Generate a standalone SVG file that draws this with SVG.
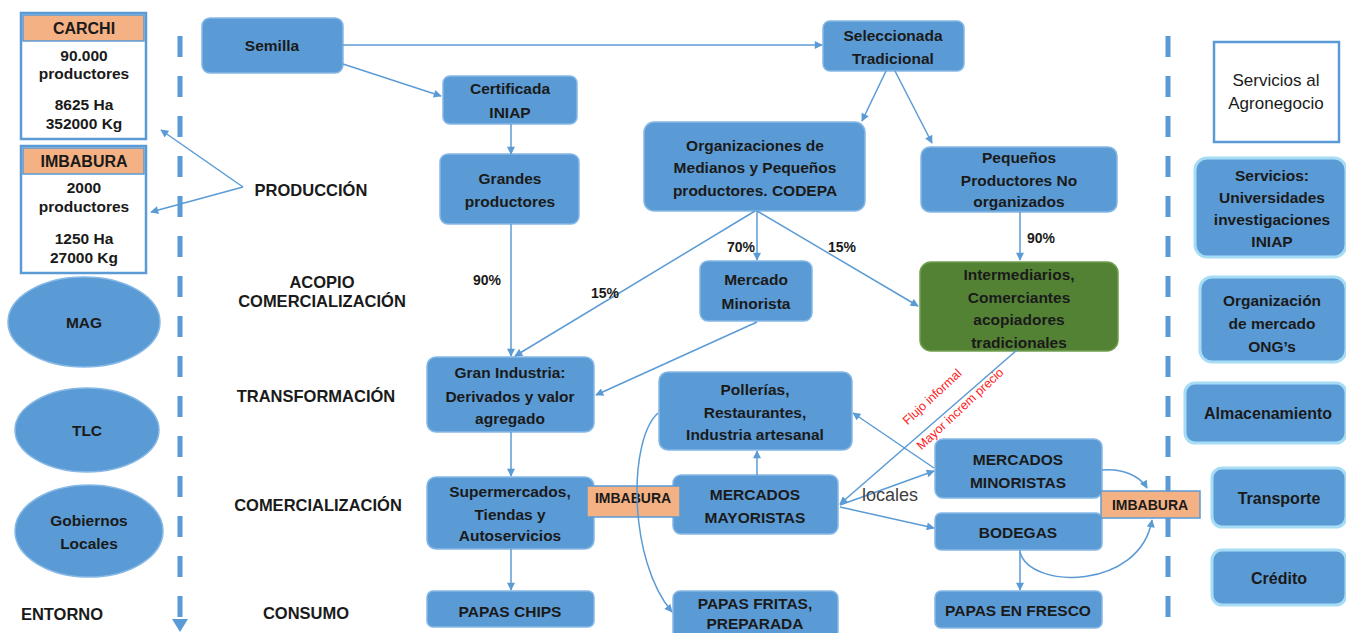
<svg xmlns="http://www.w3.org/2000/svg" width="1346" height="633" viewBox="0 0 1346 633">
<defs>
<style>
.n{fill:#5b9bd5;stroke:#86b8e6;stroke-width:1.5}
.g{fill:#548235;stroke:#6f9e50;stroke-width:1.5}
.s{fill:#5b9bd5;stroke:#a6ddf5;stroke-width:3}
.o{fill:#f4b183;stroke:#5b9bd5;stroke-width:1.5}
.w{fill:#ffffff;stroke:#5b9bd5;stroke-width:2.5}
.t{font-family:"Liberation Sans",Arial,sans-serif;font-weight:bold;font-size:15.5px;fill:#1a1a1a;text-anchor:middle}
.l{font-family:"Liberation Sans",Arial,sans-serif;font-weight:bold;font-size:16.5px;fill:#1a1a1a;text-anchor:middle}
.p{font-family:"Liberation Sans",Arial,sans-serif;font-weight:bold;font-size:14px;fill:#1a1a1a;text-anchor:middle}
.r{font-family:"Liberation Sans",Arial,sans-serif;font-size:12.5px;fill:#ff2020;text-anchor:middle}
.c{fill:none;stroke:#5b9bd5;stroke-width:1.5;marker-end:url(#ah)}
.d{fill:none;stroke:#5b9bd5;stroke-width:5;stroke-dasharray:21 19}
</style>
<marker id="ah" viewBox="0 0 10 10" refX="9" refY="5" markerWidth="9" markerHeight="8" markerUnits="userSpaceOnUse" orient="auto">
<path d="M0,0 L10,5 L0,10 z" fill="#5b9bd5"/>
</marker>
</defs>
<rect width="1346" height="633" fill="#ffffff"/>

<g id="guides">
<line class="d" x1="180" y1="36" x2="180" y2="620"/>
<path d="M172,619 L188,619 L180,632 z" fill="#5b9bd5"/>
<line class="d" x1="1168" y1="36" x2="1168" y2="620"/>
</g>

<g id="carchi">
<rect x="21" y="13" width="125" height="126" class="w"/>
<rect x="23" y="15" width="121" height="26" class="o"/>
<text class="t" x="84" y="34" style="font-size:16px">CARCHI</text>
<text class="t" x="84" y="61">90.000</text>
<text class="t" x="84" y="79">productores</text>
<text class="t" x="84" y="110">8625 Ha</text>
<text class="t" x="84" y="129">352000 Kg</text>
</g>
<g id="imbabura1">
<rect x="21" y="146" width="125" height="127" class="w"/>
<rect x="23" y="148" width="121" height="26" class="o"/>
<text class="t" x="84" y="167" style="font-size:16px">IMBABURA</text>
<text class="t" x="84" y="193">2000</text>
<text class="t" x="84" y="212">productores</text>
<text class="t" x="84" y="244">1250 Ha</text>
<text class="t" x="84" y="263">27000 Kg</text>
</g>
<g id="mag"><ellipse cx="84" cy="322" rx="76" ry="45" class="n"/><text class="t" x="84" y="328">MAG</text></g>
<g id="tlc"><ellipse cx="87" cy="430" rx="72" ry="42" class="n"/><text class="t" x="87" y="436">TLC</text></g>
<g id="gob"><ellipse cx="89" cy="531" rx="74" ry="46" class="n"/><text class="t" x="89" y="526">Gobiernos</text><text class="t" x="89" y="549">Locales</text></g>

<g id="labels">
<text class="l" x="311" y="196">PRODUCCIÓN</text>
<text class="l" x="322" y="288">ACOPIO</text>
<text class="l" x="322" y="307">COMERCIALIZACIÓN</text>
<text class="l" x="316" y="402">TRANSFORMACIÓN</text>
<text class="l" x="318" y="511">COMERCIALIZACIÓN</text>
<text class="l" x="306" y="619">CONSUMO</text>
<text class="l" x="62" y="620">ENTORNO</text>
</g>

<g id="semilla"><rect x="202" y="18" width="141" height="55" rx="8" class="n"/><text class="t" x="272" y="51">Semilla</text></g>
<g id="certificada"><rect x="443" y="76" width="134" height="48" rx="7" class="n"/><text class="t" x="510" y="94">Certificada</text><text class="t" x="510" y="118">INIAP</text></g>
<g id="grandes"><rect x="440" y="154" width="139" height="70" rx="8" class="n"/><text class="t" x="510" y="184">Grandes</text><text class="t" x="510" y="207">productores</text></g>
<g id="seleccionada"><rect x="823" y="21" width="141" height="50" rx="7" class="n"/><text class="t" x="893" y="41">Seleccionada</text><text class="t" x="893" y="64">Tradicional</text></g>
<g id="organizaciones"><rect x="644" y="122" width="221" height="89" rx="10" class="n"/><text class="t" x="755" y="151">Organizaciones de</text><text class="t" x="755" y="173">Medianos y Pequeños</text><text class="t" x="755" y="196">productores. CODEPA</text></g>
<g id="pequenos"><rect x="921" y="147" width="196" height="65" rx="9" class="n"/><text class="t" x="1019" y="163">Pequeños</text><text class="t" x="1019" y="186">Productores No</text><text class="t" x="1019" y="207">organizados</text></g>
<g id="minorista"><rect x="700" y="261" width="112" height="60" rx="8" class="n"/><text class="t" x="756" y="285">Mercado</text><text class="t" x="756" y="309">Minorista</text></g>
<g id="intermediarios"><rect x="920" y="262" width="198" height="89" rx="11" class="g"/><text class="t" x="1019" y="280">Intermediarios,</text><text class="t" x="1019" y="303">Comerciantes</text><text class="t" x="1019" y="325">acopiadores</text><text class="t" x="1019" y="348">tradicionales</text></g>
<g id="granindustria"><rect x="427" y="357" width="167" height="75" rx="9" class="n"/><text class="t" x="510" y="378">Gran Industria:</text><text class="t" x="510" y="402">Derivados y valor</text><text class="t" x="510" y="424">agregado</text></g>
<g id="pollerias"><rect x="659" y="372" width="193" height="78" rx="9" class="n"/><text class="t" x="755" y="395">Pollerías,</text><text class="t" x="755" y="418">Restaurantes,</text><text class="t" x="755" y="440">Industria artesanal</text></g>
<g id="supermercados"><rect x="427" y="477" width="167" height="72" rx="9" class="n"/><text class="t" x="510" y="497">Supermercados,</text><text class="t" x="510" y="520">Tiendas y</text><text class="t" x="510" y="541">Autoservicios</text></g>
<g id="chips"><rect x="427" y="591" width="167" height="36" rx="6" class="n"/><text class="t" x="510" y="617">PAPAS CHIPS</text></g>
<g id="mayoristas"><rect x="673" y="475" width="165" height="59" rx="8" class="n"/><text class="t" x="755" y="500">MERCADOS</text><text class="t" x="755" y="523">MAYORISTAS</text></g>
<g id="imbabura2"><rect x="587" y="486" width="93" height="31" class="o"/><text class="p" x="633" y="503">IMBABURA</text></g>
<g id="fritas"><rect x="673" y="591" width="165" height="50" rx="7" class="n"/><text class="t" x="755" y="609">PAPAS FRITAS,</text><text class="t" x="755" y="629">PREPARADA</text></g>
<g id="minoristas"><rect x="935" y="439" width="167" height="59" rx="8" class="n"/><text class="t" x="1018" y="465">MERCADOS</text><text class="t" x="1018" y="488">MINORISTAS</text></g>
<g id="bodegas"><rect x="935" y="513" width="167" height="37" rx="6" class="n"/><text class="t" x="1018" y="538">BODEGAS</text></g>
<g id="imbabura3"><rect x="1101" y="491" width="99" height="27" class="o"/><text class="p" x="1150" y="510">IMBABURA</text></g>
<g id="fresco"><rect x="935" y="591" width="167" height="37" rx="6" class="n"/><text class="t" x="1018" y="616">PAPAS EN FRESCO</text></g>

<g id="servicios-agro"><rect x="1214" y="42" width="125" height="100" class="w"/><text class="t" x="1276" y="86" style="font-weight:normal;font-size:17px">Servicios al</text><text class="t" x="1276" y="109" style="font-weight:normal;font-size:17px">Agronegocio</text></g>
<g id="universidades"><rect x="1195" y="158" width="151" height="99" rx="12" class="s"/><text class="t" x="1272" y="181">Servicios:</text><text class="t" x="1272" y="203">Universidades</text><text class="t" x="1272" y="225">investigaciones</text><text class="t" x="1272" y="247">INIAP</text></g>
<g id="ong"><rect x="1200" y="277" width="146" height="85" rx="12" class="s"/><text class="t" x="1272" y="306">Organización</text><text class="t" x="1272" y="329">de mercado</text><text class="t" x="1272" y="352">ONG’s</text></g>
<g id="almacenamiento"><rect x="1185" y="383" width="161" height="60" rx="10" class="s"/><text class="t" x="1268" y="419" style="font-size:16px">Almacenamiento</text></g>
<g id="transporte"><rect x="1212" y="468" width="134" height="59" rx="10" class="s"/><text class="t" x="1279" y="504" style="font-size:16px">Transporte</text></g>
<g id="credito"><rect x="1212" y="550" width="134" height="55" rx="10" class="s"/><text class="t" x="1279" y="584" style="font-size:16px">Crédito</text></g>

<g id="connectors">
<line class="c" x1="243" y1="187" x2="161" y2="130"/>
<line class="c" x1="243" y1="187" x2="151" y2="212"/>
<line class="c" x1="343" y1="45" x2="822" y2="45"/>
<line class="c" x1="343" y1="64" x2="441" y2="96"/>
<line class="c" x1="511" y1="124" x2="511" y2="154"/>
<line class="c" x1="886" y1="71" x2="862" y2="121"/>
<line class="c" x1="895" y1="71" x2="932" y2="143"/>
<line class="c" x1="511" y1="224" x2="511" y2="356"/>
<line class="c" x1="755" y1="211" x2="515" y2="356"/>
<line class="c" x1="757" y1="211" x2="757" y2="260"/>
<line class="c" x1="757" y1="211" x2="918" y2="306"/>
<line class="c" x1="1020" y1="212" x2="1020" y2="260"/>
<line class="c" x1="757" y1="322" x2="596" y2="395"/>
<line class="c" x1="511" y1="432" x2="511" y2="476"/>
<line class="c" x1="511" y1="549" x2="511" y2="590"/>
<line class="c" x1="757" y1="475" x2="757" y2="451"/>
<line class="c" x1="1017" y1="350" x2="840" y2="504"/>
<line class="c" x1="840" y1="505" x2="934" y2="471"/>
<line class="c" x1="840" y1="507" x2="934" y2="528"/>
<line class="c" x1="934" y1="468" x2="853" y2="413"/>
<path class="c" d="M658,413 C628,440 628,560 672,612"/>
<path class="c" d="M1102,470 C1122,468 1140,476 1147,488"/>
<path class="c" d="M1020,552 C1030,590 1140,590 1152,520"/>
<line class="c" x1="1020" y1="550" x2="1020" y2="590"/>
</g>

<g id="connector-labels">
<text class="p" x="487" y="285">90%</text>
<text class="p" x="605" y="298">15%</text>
<text class="p" x="741" y="252">70%</text>
<text class="p" x="842" y="252">15%</text>
<text class="p" x="1041" y="243">90%</text>
<text x="890" y="501" style="font-family:'Liberation Sans',Arial,sans-serif;font-size:18px;fill:#404040;text-anchor:middle">locales</text>
<text class="r" transform="translate(935,400) rotate(-43)">Flujo informal</text>
<text class="r" transform="translate(963,412) rotate(-43)">Mayor increm precio</text>
</g>
</svg>
